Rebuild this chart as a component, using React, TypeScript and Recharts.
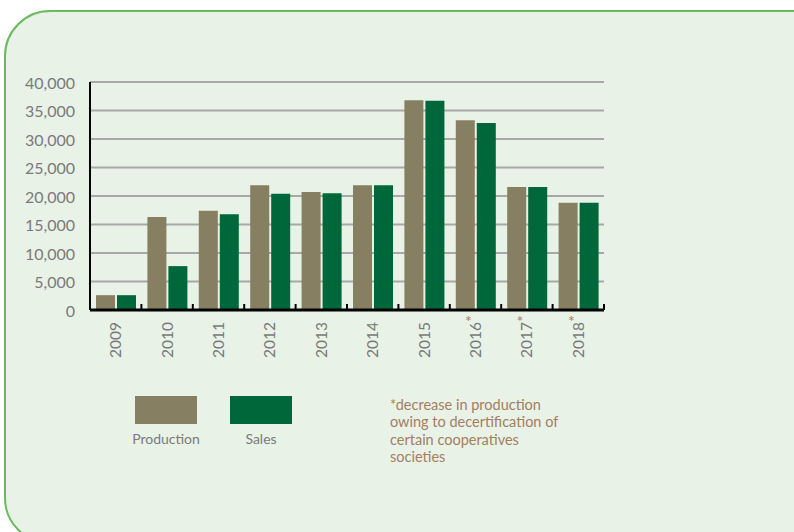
import { Bar, BarChart, CartesianGrid, XAxis, YAxis } from 'recharts';

const years = ['2009', '2010', '2011', '2012', '2013', '2014', '2015', '2016', '2017', '2018'];
const production = [2600, 16300, 17400, 21900, 20700, 21900, 36800, 33300, 21600, 18800];
const sales = [2600, 7700, 16800, 20400, 20500, 21900, 36700, 32800, 21600, 18800];
const flaggedYears = ['2016', '2017', '2018'];
const yTicks = [0, 5000, 10000, 15000, 20000, 25000, 30000, 35000, 40000];
const footnote = [
  '*decrease in production',
  'owing to decertification of',
  'certain cooperatives',
  'societies',
];

const series = [
  { key: 'production', name: 'Production', color: '#877f61' },
  { key: 'sales', name: 'Sales', color: '#00673a' },
];

const data = years.map((year, i) => ({
  year,
  production: production[i],
  sales: sales[i],
}));

const FONT = 'Lato, "Open Sans", sans-serif';
const GRAY = '#7a7a7a';
const BROWN = '#a57d61';

function YearTick(props: any) {
  const { x, y, payload } = props;
  const half = payload.offset ?? 25.7;
  return (
    <g>
      <line x1={x + half} x2={x + half} y1={y} y2={y - 6} stroke="#000" strokeWidth={2} />
      <text
        x={x}
        y={y + 12}
        dy="0.35em"
        transform={`rotate(-90 ${x} ${y + 12})`}
        textAnchor="end"
        fill={GRAY}
        fontSize={15.5}
        fontFamily={FONT}
      >
        {payload.value}
      </text>
      {flaggedYears.includes(payload.value) && (
        <text x={x - 7} y={y + 17} textAnchor="middle" fill={BROWN} fontSize={16} fontFamily={FONT}>
          *
        </text>
      )}
    </g>
  );
}

export default function App() {
  return (
    <div
      style={{
        position: 'absolute',
        left: 0,
        top: 0,
        width: 794,
        height: 532,
        overflow: 'hidden',
        background: '#ffffff',
        fontFamily: FONT,
      }}
    >
      <div
        style={{
          position: 'absolute',
          left: 4,
          top: 10,
          width: 840,
          height: 530,
          borderRadius: 46,
          border: '2px solid #6cba60',
          background: '#e8f2e7',
        }}
      />
      <div style={{ position: 'absolute', left: 0, top: 0 }}>
        <BarChart
          width={794}
          height={532}
          data={data}
          margin={{ top: 82, right: 190, bottom: 162, left: 10 }}
          barSize={19}
          barGap={2}
        >
          <CartesianGrid horizontal vertical={false} stroke="#a8a8a8" strokeWidth={2} />
          <XAxis
            dataKey="year"
            height={60}
            tickSize={0}
            tickMargin={0}
            tickLine={false}
            axisLine={{ stroke: '#000', strokeWidth: 3 }}
            tick={<YearTick />}
            interval={0}
          />
          <YAxis
            width={80}
            domain={[0, 40000]}
            ticks={yTicks}
            tickSize={0}
            tickMargin={15}
            tickLine={false}
            axisLine={{ stroke: '#000', strokeWidth: 2 }}
            tickFormatter={(v: number) => v.toLocaleString('en-US')}
            tick={{ fill: GRAY, fontSize: 16, fontFamily: FONT, dy: 1 }}
          />
          {series.map((s) => (
            <Bar key={s.key} dataKey={s.key} name={s.name} fill={s.color} isAnimationActive={false} />
          ))}
        </BarChart>
      </div>
      {series.map((s, i) => (
        <div
          key={s.key}
          style={{
            position: 'absolute',
            left: 135 + i * 95,
            top: 396,
            width: 62,
          }}
        >
          <div style={{ width: 62, height: 28, background: s.color }} />
          <div
            style={{
              width: 62,
              marginTop: 6,
              fontSize: 14,
              color: GRAY,
              whiteSpace: 'nowrap',
              display: 'flex',
              justifyContent: 'center',
            }}
          >
            {s.name}
          </div>
        </div>
      ))}
      <div
        style={{
          position: 'absolute',
          left: 390,
          top: 396,
          fontSize: 14.5,
          lineHeight: '17.3px',
          color: BROWN,
        }}
      >
        {footnote.map((line) => (
          <div key={line}>{line}</div>
        ))}
      </div>
    </div>
  );
}
